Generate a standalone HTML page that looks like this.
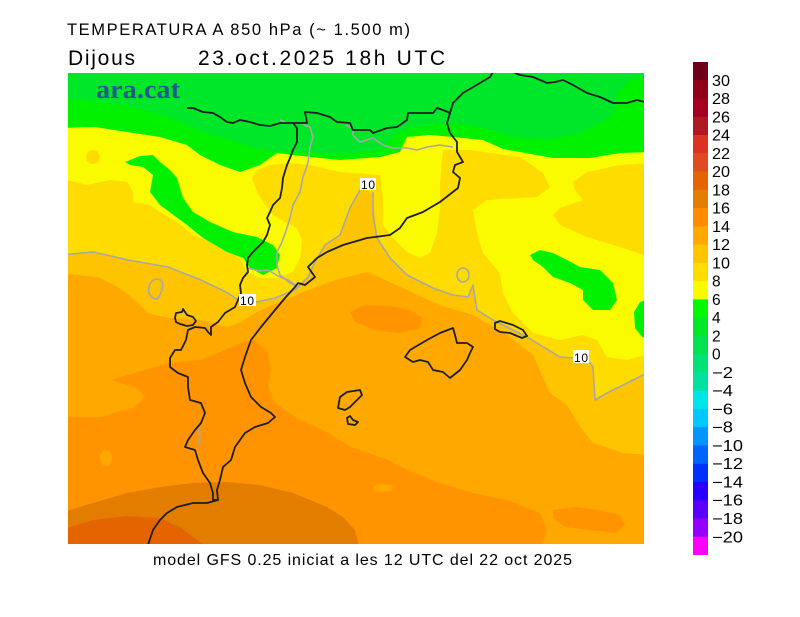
<!DOCTYPE html>
<html><head><meta charset="utf-8">
<style>
html,body{margin:0;padding:0;background:#fff;}
svg{display:block;}
text{font-family:"Liberation Sans",sans-serif;fill:#000;}
</style></head>
<body>
<svg width="800" height="617" viewBox="0 0 800 617" xmlns="http://www.w3.org/2000/svg">
<rect width="800" height="617" fill="#fff"/>
<defs><clipPath id="map"><rect x="68" y="73" width="576" height="471"/></clipPath></defs>
<g clip-path="url(#map)">
 <rect x="60" y="60" width="600" height="500" fill="#ffa800"/>
 <!-- 10-12 -->
 <path fill="#ffc400" d="M60,60 L650,60 L650,455 L623,453 L593,443 L580,427 L567,405 L550,393 L542,375 L533,355 L507,335 L473,315 L440,305 L407,290 L368,272 L335,280 L301,293 L268,307 L255,313 L241,322 L228,327 L201,320 L168,318 L148,313 L135,300 L118,287 L98,277 L60,273 Z"/>
 <!-- 8-10 -->
 <path fill="#ffdc00" d="M60,60 L650,60 L650,372 L643,375 L607,393 L595,400 L593,367 L580,360 L560,357 L527,337 L493,320 L477,310 L475,298 L473,285 L468,297 L453,295 L433,288 L407,275 L390,258 L377,238 L375,215 L373,195 L362,185 L350,210 L340,235 L325,245 L315,262 L308,277 L295,290 L275,298 L255,302 L238,300 L228,293 L201,280 L168,267 L128,260 L93,252 L60,255 Z"/>
 <!-- 6-8 yellow -->
 <path fill="#fafa00" d="M60,60 L650,60 L650,163 L620,165 L587,172 L573,182 L575,190 L583,200 L560,208 L553,215 L560,225 L587,237 L620,247 L650,257 L650,353 L627,360 L607,357 L597,340 L583,335 L560,340 L533,333 L513,313 L503,293 L500,273 L483,253 L477,233 L473,210 L487,200 L537,197 L550,187 L543,173 L520,157 L470,150 L443,150 L440,183 L440,208 L437,233 L430,253 L420,258 L407,252 L393,238 L383,225 L383,198 L380,175 L340,172 L310,165 L290,163 L270,165 L257,170 L252,178 L257,192 L265,205 L273,215 L285,222 L297,228 L302,240 L300,258 L293,272 L277,278 L260,278 L247,272 L240,258 L227,248 L210,242 L193,235 L177,222 L160,212 L150,205 L133,202 L133,192 L127,182 L110,180 L87,185 L60,178 Z"/>
 <ellipse cx="93" cy="157" rx="7" ry="7" fill="#ffdc00"/>
 <!-- greens -->
 <path fill="#00f000" d="M60,60 L650,60 L650,152 L620,153 L590,158 L553,158 L503,149 L483,140 L453,137 L430,135 L407,137 L400,152 L380,157 L340,160 L320,158 L293,155 L277,153 L260,165 L240,172 L220,165 L200,155 L187,145 L160,137 L127,132 L95,127 L60,128 Z"/>
 <path fill="#00e628" d="M60,60 L650,60 L650,77 L630,80 L618,92 L617,105 L612,115 L600,123 L580,133 L547,140 L513,137 L480,127 L447,123 L413,127 L397,133 L380,150 L340,154 L293,151 L273,151 L253,147 L227,139 L200,131 L177,120 L143,109 L110,103 L60,98 Z"/>
 <path fill="#00f000" d="M125,162 L140,156 L153,155 L160,162 L170,170 L177,178 L183,198 L193,212 L210,222 L233,232 L257,237 L273,245 L280,255 L277,268 L263,275 L250,268 L243,258 L227,252 L203,238 L187,225 L160,205 L150,192 L153,175 L143,167 L130,165 Z"/>
 <path fill="#00f000" d="M530,255 L540,250 L553,253 L567,260 L580,267 L600,270 L613,283 L617,300 L610,310 L593,310 L583,300 L583,290 L570,283 L553,277 L543,267 L533,260 Z"/>
 <path fill="#00f000" d="M650,299 L640,302 L634,312 L635,328 L642,337 L650,338 Z"/>
 <!-- 14-16 -->
 <path fill="#ff9400" d="M60,417 L101,417 L135,407 L145,397 L135,387 L111,380 L135,373 L168,363 L201,360 L225,350 L241,343 L255,340 L268,353 L271,370 L268,387 L275,403 L295,417 L328,433 L351,447 L388,460 L407,470 L440,483 L473,493 L507,500 L540,513 L547,530 L540,550 L60,550 Z"/>
 <path fill="#ff9400" d="M350,312 L365,305 L390,306 L410,310 L422,318 L420,328 L400,333 L375,330 L355,322 Z"/>
 <path fill="#ff9400" d="M553,510 L575,507 L600,510 L620,515 L625,525 L615,533 L590,530 L565,527 L553,518 Z"/>
 <ellipse cx="106" cy="458" rx="6" ry="8" fill="#ffa800"/>
 <ellipse cx="383" cy="488" rx="10" ry="4" fill="#ffa800"/>
 <!-- 16-18 -->
 <path fill="#e27d00" d="M60,513 L93,503 L127,493 L160,487 L193,483 L227,482 L260,485 L293,493 L327,507 L343,517 L355,530 L360,550 L60,550 Z"/>
 <!-- 18-20 -->
 <path fill="#e46400" d="M60,530 L93,520 L127,516 L160,518 L180,527 L210,550 L60,550 Z"/>

 <!-- gray lines -->
 <g fill="none" stroke="#a8a8a8" stroke-width="1.6" stroke-linejoin="round">
  <path d="M280,120 L287,123 L300,123 L310,127 L313,137 L310,147 L308,163 L303,177 L300,192 L293,205 L290,218 L287,228 L282,242 L277,252 L277,265 L280,275 L290,283 L298,287"/>
  <path d="M247,268 L260,271 L268,270 L278,276 L288,280 L298,287"/>
  <path d="M345,125 L353,128 L353,135 L360,142 L373,138 L383,145 L393,148 L407,148 L417,150 L427,147 L440,145 L453,147"/>
  <path d="M60,255 L93,252 L128,260 L168,267 L201,280 L228,293 L238,300"/>
  <path d="M256,302 L275,298 L295,290 L308,277 L315,262 L325,245 L340,235 L350,208 L360,190"/>
  <path d="M373,192 L373,215 L377,238 L390,258 L407,275 L433,288 L453,295 L468,297 L473,285 L475,298 L477,310 L493,320 L527,337 L560,357 L573,358"/>
  <path d="M589,362 L593,367 L595,400 L607,393 L643,375 L650,372"/>
  <ellipse cx="463" cy="275" rx="6" ry="7"/>
  <path d="M156,279 C149,281 147,290 150,295 C153,299 156,300 158,298 C161,294 164,287 162,282 C160,279 158,279 156,279 Z"/>
  <path d="M197,427 L200,435 L198,445"/>
 </g>
 <!-- black lines -->
 <g fill="none" stroke="#1e1e1e" stroke-width="1.8" stroke-linejoin="round">
  <path d="M187,108 L193,108 L203,112 L213,113 L220,117 L227,122 L233,123 L240,120 L250,122 L260,125 L270,126 L280,123 L293,123 L307,123 L305,112 L317,113 L330,117 L337,122 L350,123 L353,130 L370,130 L373,133 L387,128 L397,127 L407,120 L408,113 L420,113 L433,113 L437,108 L443,110 L450,113 L453,103 L463,93 L480,83 L490,77 L493,72"/>
  <path d="M513,72 L520,75 L533,77 L547,83 L555,82 L563,80 L573,85 L587,93 L600,97 L613,103 L627,103 L637,100 L645,102"/>
  <path d="M450,113 L447,123 L450,133 L457,142 L457,152 L463,162 L455,165 L453,172 L460,178 L458,188 L440,202 L423,212 L407,218 L400,228 L390,235 L367,238 L343,245 L327,252 L317,258 L308,267 L315,277 L305,285 L298,283 L295,287 L285,298 L275,310 L261,327 L251,340 L245,357 L241,370 L245,383 L251,397 L261,407 L271,413 L275,417 L268,423 L255,427 L245,433 L235,447 L231,460 L223,467 L220,480 L217,490 L218,500 L207,503 L193,503 L177,507 L167,513 L160,520 L153,530 L148,545"/>
  <path d="M293,123 L297,128 L297,142 L293,150 L290,158 L287,165 L283,178 L282,188 L280,198 L273,205 L270,212 L267,218 L270,225 L267,235 L263,242 L253,252 L248,258 L247,265 L248,272 L243,278 L240,285 L241,293 L235,307 L225,313 L218,322 L211,327 L211,335 L208,332 L205,328 L195,327 L188,330 L186,340 L181,350 L175,350 L170,358 L170,367 L178,373 L188,377 L188,387 L190,400 L201,403 L205,413 L201,423 L195,430 L188,440 L185,447 L195,450 L198,460 L203,473 L210,483 L213,493 L213,500 L218,500"/>
  <path d="M175,318 L176,313 L182,312 L183,309 L187,315 L193,317 L196,321 L193,325 L187,326 L180,324 L176,322 Z"/>
  <path d="M405,357 L410,350 L427,340 L440,333 L453,328 L455,335 L457,343 L467,343 L473,347 L470,353 L467,360 L460,370 L450,378 L443,372 L433,370 L428,362 L420,360 L413,362 Z"/>
  <path d="M495,323 L500,321 L513,325 L523,330 L527,336 L522,338 L510,333 L500,332 L495,329 Z"/>
  <path d="M340,397 L347,392 L360,390 L362,395 L357,400 L350,407 L345,410 L338,408 Z"/>
  <path d="M347,418 L350,416 L353,420 L358,422 L355,425 L348,424 Z"/>
 </g>
 <!-- contour labels -->
 <rect x="239" y="294" width="17" height="12" fill="#fff"/>
 <text x="240" y="305" font-size="12" textLength="14">10</text>
 <rect x="360" y="178" width="16" height="12" fill="#fff"/>
 <text x="361" y="189" font-size="12" textLength="14">10</text>
 <rect x="573" y="350" width="16" height="13" fill="#fff"/>
 <text x="574" y="362" font-size="12" textLength="14">10</text>
 <!-- logo -->
 <text x="96" y="98" font-size="26" style="font-family:'Liberation Serif',serif;font-weight:bold;fill:#1d5a8e" textLength="84" lengthAdjust="spacingAndGlyphs">ara.cat</text>
</g>

<!-- titles -->
<text x="67" y="35" font-size="16.5" textLength="343">TEMPERATURA A 850 hPa (~ 1.500 m)</text>
<text x="68" y="65" font-size="21" textLength="67">Dijous</text>
<text x="198" y="65" font-size="21" textLength="247">23.oct.2025 18h UTC</text>
<text x="153" y="565" font-size="16" textLength="419">model GFS 0.25 iniciat a les 12 UTC del 22 oct 2025</text>

<!-- colorbar -->
<g>
 <rect x="693" y="62.00" width="15" height="18.6" fill="#6e0019"/>
 <rect x="693" y="80.26" width="15" height="18.6" fill="#910019"/>
 <rect x="693" y="98.52" width="15" height="18.6" fill="#a50023"/>
 <rect x="693" y="116.78" width="15" height="18.6" fill="#af1923"/>
 <rect x="693" y="135.04" width="15" height="18.6" fill="#dc3223"/>
 <rect x="693" y="153.30" width="15" height="18.6" fill="#e14b23"/>
 <rect x="693" y="171.56" width="15" height="18.6" fill="#e46400"/>
 <rect x="693" y="189.82" width="15" height="18.6" fill="#e27d00"/>
 <rect x="693" y="208.08" width="15" height="18.6" fill="#ff8c00"/>
 <rect x="693" y="226.34" width="15" height="18.6" fill="#ffa800"/>
 <rect x="693" y="244.60" width="15" height="18.6" fill="#ffc400"/>
 <rect x="693" y="262.86" width="15" height="18.6" fill="#ffdc00"/>
 <rect x="693" y="281.12" width="15" height="18.6" fill="#fafa00"/>
 <rect x="693" y="299.38" width="15" height="18.6" fill="#00f800"/>
 <rect x="693" y="317.64" width="15" height="18.6" fill="#00e628"/>
 <rect x="693" y="335.90" width="15" height="18.6" fill="#00e150"/>
 <rect x="693" y="354.16" width="15" height="18.6" fill="#00e178"/>
 <rect x="693" y="372.42" width="15" height="18.6" fill="#00e1a0"/>
 <rect x="693" y="390.68" width="15" height="18.6" fill="#00e6e6"/>
 <rect x="693" y="408.94" width="15" height="18.6" fill="#00c8ff"/>
 <rect x="693" y="427.20" width="15" height="18.6" fill="#0096ff"/>
 <rect x="693" y="445.46" width="15" height="18.6" fill="#0064ff"/>
 <rect x="693" y="463.72" width="15" height="18.6" fill="#0032ff"/>
 <rect x="693" y="481.98" width="15" height="18.6" fill="#2800ff"/>
 <rect x="693" y="500.24" width="15" height="18.6" fill="#5a00ff"/>
 <rect x="693" y="518.50" width="15" height="18.6" fill="#9600ff"/>
 <rect x="693" y="536.76" width="15" height="18.24" fill="#ff00ff"/>
</g>
<g font-size="15.5">
 <text x="712" y="85.8" textLength="18" lengthAdjust="spacingAndGlyphs">30</text>
 <text x="712" y="104.0" textLength="18" lengthAdjust="spacingAndGlyphs">28</text>
 <text x="712" y="122.3" textLength="18" lengthAdjust="spacingAndGlyphs">26</text>
 <text x="712" y="140.5" textLength="18" lengthAdjust="spacingAndGlyphs">24</text>
 <text x="712" y="158.8" textLength="18" lengthAdjust="spacingAndGlyphs">22</text>
 <text x="712" y="177.1" textLength="18" lengthAdjust="spacingAndGlyphs">20</text>
 <text x="712" y="195.3" textLength="18" lengthAdjust="spacingAndGlyphs">18</text>
 <text x="712" y="213.6" textLength="18" lengthAdjust="spacingAndGlyphs">16</text>
 <text x="712" y="231.8" textLength="18" lengthAdjust="spacingAndGlyphs">14</text>
 <text x="712" y="250.1" textLength="18" lengthAdjust="spacingAndGlyphs">12</text>
 <text x="712" y="268.4" textLength="18" lengthAdjust="spacingAndGlyphs">10</text>
 <text x="712" y="286.6">8</text>
 <text x="712" y="304.9">6</text>
 <text x="712" y="323.1">4</text>
 <text x="712" y="341.4">2</text>
 <text x="712" y="359.7">0</text>
 <text x="712" y="377.9" textLength="21" lengthAdjust="spacingAndGlyphs">−2</text>
 <text x="712" y="396.2" textLength="21" lengthAdjust="spacingAndGlyphs">−4</text>
 <text x="712" y="414.4" textLength="21" lengthAdjust="spacingAndGlyphs">−6</text>
 <text x="712" y="432.7" textLength="21" lengthAdjust="spacingAndGlyphs">−8</text>
 <text x="712" y="451.0" textLength="31" lengthAdjust="spacingAndGlyphs">−10</text>
 <text x="712" y="469.2" textLength="31" lengthAdjust="spacingAndGlyphs">−12</text>
 <text x="712" y="487.5" textLength="31" lengthAdjust="spacingAndGlyphs">−14</text>
 <text x="712" y="505.7" textLength="31" lengthAdjust="spacingAndGlyphs">−16</text>
 <text x="712" y="524.0" textLength="31" lengthAdjust="spacingAndGlyphs">−18</text>
 <text x="712" y="542.3" textLength="31" lengthAdjust="spacingAndGlyphs">−20</text>
</g>
</svg>
</body></html>
